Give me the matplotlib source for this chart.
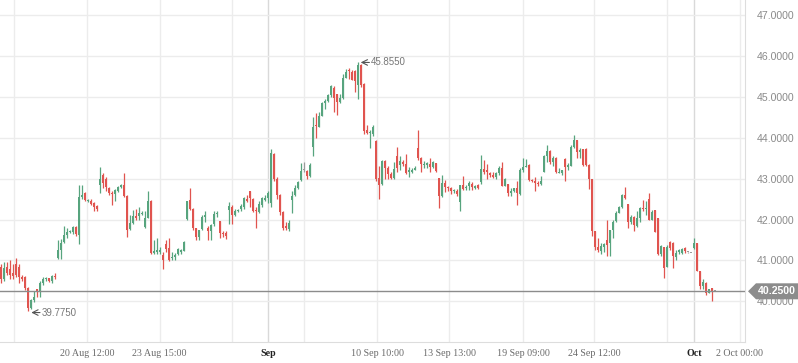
import matplotlib
matplotlib.use("Agg")
import matplotlib.pyplot as plt
from matplotlib.patches import Polygon
import numpy as np

# ------------------------------------------------------------------------------
# Candle data, one entry per candle
# ------------------------------------------------------------------------------
opens = [
    40.85, 40.55, 40.85, 40.8, 40.68, 40.9, 40.85, 40.6, 40.6, 40.32,
    39.84, 40.03, 40.3, 40.25, 40.45, 40.55, 40.56, 40.5, 40.63, 41.06,
    41.25, 41.46, 41.62, 41.7, 41.7, 41.82, 41.62, 42.56, 42.65, 42.45,
    42.46, 42.4, 42.33, 42.84, 43.1, 43.0, 42.76, 42.66, 42.62, 42.7,
    42.8, 42.84, 42.58, 41.77, 41.91, 42.09, 42.09, 42.14, 41.82, 42.03,
    42.46, 41.19, 41.2, 41.2, 41.13, 41.4, 41.3, 41.05, 41.08, 41.15,
    41.2, 41.24, 42.01, 42.48, 42.26, 41.79, 41.57, 41.77, 42.06, 41.79,
    41.73, 41.89, 42.13, 41.97, 41.67, 41.66, 42.23, 42.3, 42.1, 42.2,
    42.25, 42.31, 42.5, 42.7, 42.5, 42.22, 42.19, 42.36, 42.48, 42.52,
    42.4, 43.6, 43.0, 42.6, 42.19, 41.85, 41.78, 42.48, 42.6, 42.76,
    42.96, 43.2, 43.18, 43.07, 43.78, 44.3, 44.27, 44.53, 44.85, 44.9,
    45.04, 45.22, 45.06, 44.87, 44.98, 45.47, 45.66, 45.61, 45.63, 45.29,
    45.78, 45.31, 44.19, 44.12, 44.08, 43.92, 43.01, 42.87, 43.43, 43.26,
    43.11, 43.02, 43.56, 43.33, 43.4, 43.36, 43.15, 43.17, 43.22, 43.75,
    43.5, 43.33, 43.34, 43.36, 43.28, 43.39, 43.02, 42.58, 42.89, 42.8,
    42.77, 42.69, 42.7, 42.43, 42.85, 42.76, 42.82, 42.87, 42.78, 42.84,
    42.91, 43.23, 43.22, 43.14, 43.1, 43.04, 43.13, 43.26, 42.83, 42.86,
    42.64, 42.7, 42.76, 42.62, 43.21, 43.29, 43.33, 42.97, 42.94, 42.9,
    42.87, 43.17, 43.55, 43.67, 43.4, 43.5, 43.14, 43.13, 43.48, 43.29,
    43.32, 43.78, 43.94, 43.64, 43.72, 43.72, 43.33, 43.0, 41.72, 41.34,
    41.24, 41.34, 41.5, 41.42, 41.74, 41.97, 42.17, 42.3, 42.6, 42.38,
    41.95, 42.07, 41.85, 42.03, 42.27, 42.25, 42.5, 42.0, 42.23, 42.03,
    41.16, 41.34, 40.85, 41.46, 41.43, 41.09, 41.2, 41.19, 41.3, 41.2,
    41.18, 41.3, 41.43, 40.75, 40.37, 40.45, 40.2, 40.32, 40.25,
]
closes = [
    40.55, 40.82, 40.7, 40.65, 40.62, 40.65, 40.6, 40.55, 40.32, 39.84,
    40.03, 40.11, 40.25, 40.45, 40.55, 40.57, 40.5, 40.62, 40.6, 41.25,
    41.43, 41.62, 41.7, 41.72, 41.82, 41.65, 42.56, 42.6, 42.48, 42.47,
    42.38, 42.31, 42.26, 43.0, 42.89, 42.8, 42.64, 42.62, 42.72, 42.8,
    42.84, 42.58, 41.74, 41.91, 42.08, 42.03, 42.15, 42.17, 42.03, 42.45,
    41.19, 41.24, 41.25, 41.25, 41.01, 41.27, 41.0, 41.08, 41.12, 41.28,
    41.25, 41.45, 42.46, 42.26, 41.79, 41.57, 41.74, 42.07, 42.11, 41.72,
    41.87, 42.13, 42.15, 41.66, 41.64, 41.6, 42.33, 42.1, 42.2, 42.22,
    42.32, 42.52, 42.45, 42.53, 42.2, 42.2, 42.38, 42.52, 42.52, 42.65,
    43.63, 43.0, 42.6, 42.19, 41.8, 41.8, 41.92, 42.57, 42.77, 42.92,
    43.19, 43.2, 43.07, 43.33, 44.27, 44.28, 44.53, 44.85, 44.9, 45.04,
    45.27, 44.98, 44.88, 44.98, 45.47, 45.61, 45.63, 45.41, 45.39, 45.78,
    45.29, 44.16, 44.12, 44.14, 44.25, 43.0, 42.84, 43.43, 43.26, 43.11,
    43.02, 43.23, 43.27, 43.43, 43.35, 43.14, 43.2, 43.22, 43.25, 43.5,
    43.36, 43.35, 43.37, 43.28, 43.4, 43.19, 42.58, 42.89, 42.8, 42.77,
    42.7, 42.71, 42.63, 42.84, 42.75, 42.8, 42.9, 42.8, 42.82, 42.78,
    43.23, 43.15, 43.16, 43.1, 43.04, 43.13, 43.27, 42.83, 42.99, 42.64,
    42.7, 42.76, 42.64, 43.21, 43.29, 43.32, 42.96, 42.94, 42.9, 42.87,
    42.93, 43.55, 43.67, 43.4, 43.5, 43.16, 43.16, 43.2, 43.29, 43.34,
    43.78, 43.94, 43.64, 43.7, 43.33, 43.33, 43.0, 41.72, 41.34, 41.26,
    41.36, 41.4, 41.38, 41.74, 41.95, 42.17, 42.3, 42.6, 42.52, 41.95,
    42.06, 41.87, 42.03, 42.27, 42.25, 42.28, 42.0, 42.19, 41.7, 41.16,
    41.35, 40.81, 41.34, 41.3, 41.1, 41.18, 41.25, 41.28, 41.22, 41.2,
    41.18, 41.43, 40.75, 40.37, 40.48, 40.2, 40.29, 40.26, 40.25,
]
highs = [
    40.9, 40.95, 40.95, 41.0, 40.9, 41.05, 40.9, 40.65, 40.62, 40.35,
    40.05, 40.26, 40.3, 40.5, 40.6, 40.6, 40.58, 40.65, 40.68, 41.5,
    41.52, 41.84, 41.8, 41.74, 41.85, 41.84, 42.84, 42.84, 42.67, 42.5,
    42.5, 42.42, 42.35, 43.29, 43.14, 43.05, 42.8, 42.7, 42.75, 42.82,
    42.88, 43.13, 42.6, 42.1, 42.24, 42.26, 42.3, 42.2, 42.2, 42.7,
    42.48, 41.5, 41.55, 41.33, 41.2, 41.5, 41.55, 41.2, 41.18, 41.3,
    41.28, 41.48, 42.46, 42.77, 42.28, 41.8, 41.74, 42.1, 42.2, 41.85,
    41.9, 42.2, 42.2, 41.97, 41.72, 41.72, 42.43, 42.35, 42.25, 42.25,
    42.38, 42.55, 42.6, 42.7, 42.52, 42.3, 42.45, 42.55, 42.6, 42.7,
    43.73, 43.63, 43.05, 42.62, 42.2, 41.95, 42.0, 42.7, 42.85, 42.95,
    43.39, 43.4, 43.22, 43.38, 44.5, 44.6, 44.63, 44.88, 44.95, 45.06,
    45.3, 45.27, 45.08, 45.06, 45.56, 45.69, 45.7, 45.65, 45.66, 45.855,
    45.8, 45.33, 44.3, 44.18, 44.3, 43.95, 43.3, 43.45, 43.45, 43.3,
    43.15, 43.4, 43.78, 43.55, 43.45, 43.6, 43.28, 43.27, 43.3, 44.18,
    43.52, 43.42, 43.4, 43.5, 43.42, 43.39, 43.02, 43.1, 42.97, 42.83,
    42.8, 42.75, 42.75, 42.84, 43.07, 42.85, 42.95, 42.92, 42.85, 42.87,
    43.57, 43.45, 43.35, 43.17, 43.17, 43.15, 43.3, 43.4, 43.01, 42.86,
    42.78, 42.78, 42.95, 43.25, 43.5, 43.48, 43.35, 43.0, 43.05, 42.95,
    43.07, 43.58, 43.81, 43.7, 43.55, 43.52, 43.25, 43.22, 43.5, 43.38,
    43.82, 44.07, 43.95, 43.75, 43.73, 43.75, 43.35, 43.0, 41.72, 41.55,
    41.42, 41.42, 42.0, 41.75, 42.0, 42.2, 42.33, 42.63, 42.79, 42.38,
    42.1, 42.08, 42.2, 42.3, 42.48, 42.45, 42.65, 42.23, 42.23, 42.03,
    41.38, 41.34, 41.38, 41.48, 41.45, 41.25, 41.28, 41.3, 41.32, 41.21,
    41.19, 41.55, 41.43, 40.75, 40.55, 40.48, 40.3, 40.33, 40.26,
]
lows = [
    40.45, 40.5, 40.65, 40.55, 40.55, 40.6, 40.45, 40.5, 40.28, 39.775,
    39.8, 39.99, 40.11, 40.11, 40.4, 40.5, 40.48, 40.45, 40.55, 41.03,
    41.03, 41.43, 41.55, 41.68, 41.65, 41.6, 41.4, 42.5, 42.45, 42.42,
    42.35, 42.2, 42.2, 42.64, 42.76, 42.7, 42.6, 42.35, 42.45, 42.68,
    42.78, 42.55, 41.58, 41.74, 41.88, 41.98, 41.98, 42.1, 41.8, 42.03,
    41.16, 41.15, 41.16, 41.15, 40.8, 41.2, 40.98, 41.0, 41.02, 41.12,
    41.15, 41.22, 41.98, 42.24, 41.75, 41.5, 41.5, 41.75, 41.95, 41.5,
    41.5, 41.85, 42.05, 41.55, 41.58, 41.52, 41.9, 41.9, 42.08, 42.18,
    42.22, 42.26, 42.42, 42.3, 42.18, 41.8, 42.15, 42.3, 42.45, 42.4,
    42.3, 42.95, 42.5, 42.1, 41.75, 41.75, 41.73, 42.15, 42.58, 42.74,
    42.95, 43.15, 43.0, 43.05, 43.55, 44.0, 44.25, 44.52, 44.7, 44.88,
    45.0, 44.64, 44.55, 44.85, 44.95, 45.45, 45.43, 45.4, 45.12, 44.95,
    45.25, 44.1, 44.08, 43.75, 44.05, 42.95, 42.5, 42.85, 43.0, 42.98,
    43.0, 43.0, 43.15, 43.2, 43.3, 43.12, 43.05, 43.13, 43.2, 43.45,
    43.15, 43.25, 43.25, 43.15, 43.25, 43.17, 42.28, 42.55, 42.68, 42.7,
    42.62, 42.65, 42.58, 42.2, 42.73, 42.73, 42.73, 42.73, 42.75, 42.75,
    42.88, 43.12, 42.98, 43.05, 43.02, 43.0, 43.1, 42.82, 42.82, 42.58,
    42.57, 42.68, 42.35, 42.6, 43.16, 43.28, 42.94, 42.92, 42.7, 42.82,
    42.85, 43.15, 43.4, 43.35, 43.32, 43.14, 43.13, 43.1, 42.95, 43.2,
    43.3, 43.76, 43.5, 43.5, 43.3, 43.3, 42.75, 41.6, 41.25, 41.2,
    41.15, 41.2, 41.1, 41.1, 41.55, 41.95, 42.15, 42.28, 42.5, 41.8,
    41.9, 41.73, 41.82, 41.95, 42.22, 42.1, 41.98, 41.98, 41.7, 41.13,
    41.1, 40.58, 40.83, 41.25, 40.82, 41.0, 41.15, 41.15, 41.18, 41.19,
    41.17, 41.28, 40.73, 40.3, 40.3, 40.15, 40.2, 40.01, 40.24,
]

# time axis: grid positions (in candle units) and their labels ('' = no label)
grid_pos = [4.43, 28.77, 52.9, 77.1, 89.1, 101.1, 125.4, 149.4, 174.0,
            197.8, 222.1, 231.1, 246.3]
grid_labels = ['', '20 Aug 12:00', '23 Aug 15:00', '', 'Sep', '',
               '10 Sep 10:00', '13 Sep 13:00', '19 Sep 09:00', '24 Sep 12:00',
               '', 'Oct', '2 Oct 00:00']
price_ticks = [40, 41, 42, 43, 44, 45, 46, 47]
last_price = 40.25
low_idx, low_val = 9, 39.775
high_idx, high_val = 119, 45.855

UP = '#57a47e'
DOWN = '#e0544f'
FLAT = '#9a9a9a'

# ------------------------------------------------------------------------------
W, H = 798, 363
fig = plt.figure(figsize=(W / 100, H / 100), dpi=100)
ax = fig.add_axes([0, 1 - 342 / H, 745 / W, 342 / H])

o = np.array(opens)
c = np.array(closes)
hi = np.array(highs)
lo = np.array(lows)
x = np.arange(len(o))

colors = np.where(c > o, UP, np.where(c < o, DOWN, FLAT))

# wicks and bodies
ax.vlines(x, lo, hi, colors=colors, linewidth=0.9, zorder=3)
body_bottom = np.minimum(o, c)
body_height = np.maximum(np.abs(c - o), 0.025)
ax.bar(x, body_height, bottom=body_bottom, width=0.8, color=colors,
       linewidth=0, zorder=4)

# grid
for p, lab in zip(grid_pos, grid_labels):
    strong = lab in ('Sep', 'Oct')
    ax.axvline(p, color='#d9d9d9' if strong else '#ececec', linewidth=1, zorder=1)
for p in price_ticks:
    ax.axhline(p, color='#ececec', linewidth=1, zorder=1)

# last price line
ax.axhline(last_price, color='#8c8c8c', linewidth=1, zorder=5)

ax.set_xlim(-0.333, 248.0)
ax.set_ylim(39.005, 47.367)

# axes styling
for side in ('top', 'left'):
    ax.spines[side].set_visible(False)
ax.spines['right'].set_color('#dddddd')
ax.spines['bottom'].set_color('#dddddd')

ax.yaxis.tick_right()
ax.set_yticks(price_ticks)
ax.set_yticklabels([f'{p:.4f}' for p in price_ticks])
ax.tick_params(axis='y', length=0, pad=8.5, labelsize=7.6, labelcolor='#8a8a8a')
for t in ax.get_yticklabels():
    t.set_fontfamily('Liberation Sans')

ax.set_xticks(grid_pos)
ax.set_xticklabels(grid_labels)
ax.tick_params(axis='x', length=0, pad=5, labelsize=7.2, labelcolor='#6a6a6a')
for t in ax.get_xticklabels():
    t.set_fontfamily('Liberation Serif')
    if t.get_text() in ('Sep', 'Oct'):
        t.set_color('#222222')
        t.set_fontweight('bold')

# min / max annotations
ax.annotate('', xy=(low_idx + 1.1, low_val - 0.05),
            xytext=(low_idx + 4.0, low_val - 0.05),
            arrowprops=dict(arrowstyle='->', color='#555555', lw=0.8,
                            shrinkA=0, shrinkB=0), zorder=6)
ax.text(low_idx + 4.6, low_val - 0.05, f'{low_val:.4f}', fontsize=7,
        color='#777777', va='center', ha='left', family='Liberation Sans')
ax.annotate('', xy=(high_idx + 0.9, high_val - 0.015),
            xytext=(high_idx + 3.8, high_val - 0.015),
            arrowprops=dict(arrowstyle='->', color='#555555', lw=0.8,
                            shrinkA=0, shrinkB=0), zorder=6)
ax.text(high_idx + 4.4, high_val - 0.015, f'{high_val:.4f}', fontsize=7,
        color='#777777', va='center', ha='left', family='Liberation Sans')

# last price tag on the right axis
ytag = 1 - (291.3 / H)
x0 = 748 / W
x1 = 756 / W
x2 = 1.0
hh = 8 / H
tag = Polygon([[x0, ytag], [x1, ytag + hh], [x2, ytag + hh], [x2, ytag - hh],
               [x1, ytag - hh]], closed=True, transform=fig.transFigure,
              facecolor='#8c8c8c', edgecolor='none', zorder=10)
fig.patches.append(tag)
fig.text(777 / W, ytag, f'{last_price:.4f}', color='white', fontsize=7.6,
         fontweight='bold', ha='center', va='center', family='Liberation Sans',
         zorder=11)

fig.savefig('out.png', dpi=100)
